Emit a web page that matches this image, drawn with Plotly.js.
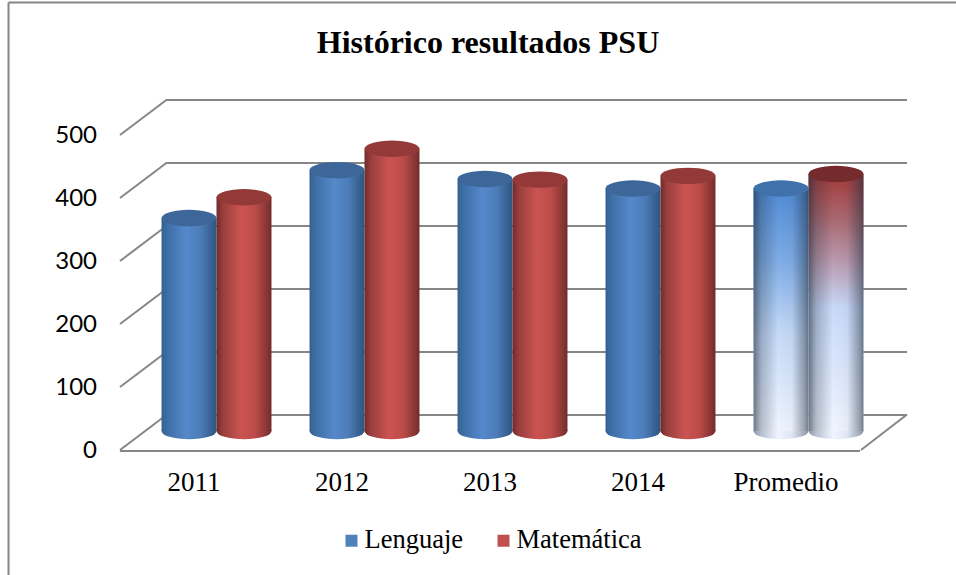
<!DOCTYPE html>
<html>
<head>
<meta charset="utf-8">
<script src="https://cdn.plot.ly/plotly-3.0.1.min.js"></script>
<style>
html,body{margin:0;padding:0;background:#fff}#chart{width:956px;height:575px}
.legend .legendsymbols{transform:translate(7px,3px)}
.legend .scrollbox{clip-path:none}
</style>
</head>
<body>
<div id="chart"></div>
<script>
const categories = ['2011','2012','2013','2014','Promedio'];
const lenguaje = [338,414,400,385,385];
const matematica = [371,448,399,405,408];
const yTicks = [0,100,200,300,400,500];
const chartTitle = 'Histórico resultados PSU';

const W = 956, H = 575;
const px = v => v / W;
const py = v => 1 - v / H;
const GREY = '#868686';
const SERIF = '"Liberation Serif", serif';

const barWidth = 0.3715, capHalf = 13;
function ellipse(i, lo, value, fill, layer) {
  return {type:'circle', xref:'x3', yref:'y3', layer, x0:i+lo, x1:i+lo+barWidth,
          y0:value-capHalf, y1:value+capHalf, fillcolor:fill, line:{width:0}};
}
const obliques = yTicks.map(v => {
  const d = v * 0.63;
  return {type:'line', xref:'paper', yref:'paper', layer:'below',
          x0:px(120), y0:py(450-d), x1:px(167), y1:py(414.5-d), line:{color:GREY,width:2}};
});
const frame = [
  {type:'line', xref:'paper', yref:'paper', layer:'below', x0:px(8.5), y0:py(2.5), x1:1, y1:py(2.5), line:{color:GREY,width:2}},
  {type:'line', xref:'paper', yref:'paper', layer:'below', x0:px(8.5), y0:py(2.5), x1:px(8.5), y1:0, line:{color:GREY,width:2}},
  {type:'line', xref:'paper', yref:'paper', layer:'below', x0:px(861), y0:py(450), x1:px(907), y1:py(414.5), line:{color:GREY,width:2}}
];
const baseShapes = frame.concat(obliques);
const nBase = baseShapes.length;
const bottomShapes = [];
categories.forEach((c,i) => {
  bottomShapes.push(ellipse(i,-barWidth,0,'#4f81bd','below'));
  bottomShapes.push(ellipse(i,0,0,'#c0504d','below'));
});
const capShapes = [];
categories.forEach((c,i) => {
  capShapes.push(ellipse(i,-barWidth,lenguaje[i],i===4?'#3f72aa':'#3c6798','above'));
});
categories.forEach((c,i) => {
  capShapes.push(ellipse(i,0,matematica[i],i===4?'#752b2b':'#933a39','above'));
});

const ghost = (xa,ya) => ({type:'scatter', mode:'none', x:[0], y:[0], xaxis:xa, yaxis:ya, showlegend:false, hoverinfo:'skip'});
const traces = [
  ghost('x','y'),
  ghost('x2','y2'),
  {type:'bar', name:'Lenguaje', x:categories, y:lenguaje, xaxis:'x3', yaxis:'y3', marker:{color:'#4f81bd',line:{width:0}}, hoverinfo:'y+name'},
  {type:'bar', name:'Matemática', x:categories, y:matematica, xaxis:'x3', yaxis:'y3', marker:{color:'#c0504d',line:{width:0}}, hoverinfo:'y+name'}
];

const under = 30, pad = 20;
const layout = {
  width:W, height:H, margin:{l:0,r:0,t:0,b:0}, autosize:false,
  paper_bgcolor:'#fff', plot_bgcolor:'rgba(0,0,0,0)',
  barmode:'group', bargap:0.257, bargroupgap:0,
  title:{text:'<b>'+chartTitle+'</b>', x:px(488), y:py(42), xanchor:'center', yanchor:'middle', font:{family:SERIF,size:32,color:'#000'}},
  // back wall
  xaxis:{domain:[px(167),px(907)], range:[0,1], visible:false, fixedrange:true},
  yaxis:{domain:[py(414.5+pad*0.63),py(99.5-pad*0.63)], range:[-pad,500+pad], tickvals:yTicks, showgrid:true, gridcolor:GREY, gridwidth:2,
         zeroline:false, showticklabels:false, ticks:'', showline:false, fixedrange:true},
  // front plane: labels and floor edge
  xaxis2:{domain:[px(120),px(860)], range:[-0.5,4.5], anchor:'y2', tickmode:'array', tickvals:categories.map((c,i)=>i), ticktext:categories,
          showline:true, linecolor:GREY, linewidth:2, showgrid:false, zeroline:false, ticks:'', ticklabelstandoff:7,
          tickfont:{family:SERIF,size:27,color:'#000'}, fixedrange:true},
  yaxis2:{domain:[py(450),py(135)], range:[0,500], anchor:'x2', tickvals:yTicks, showgrid:false, zeroline:false, showline:false, ticks:'',
          ticklabelstandoff:22, tickfont:{family:'Lato, sans-serif',size:24,color:'#000'}, fixedrange:true},
  // mid-depth plane where the cylinders stand
  xaxis3:{domain:[px(142.5),px(882.5)], anchor:'y3', type:'category', visible:false, fixedrange:true},
  yaxis3:{domain:[py(431+under*0.63),py(116)], range:[-under,500], anchor:'x3', visible:false, fixedrange:true},
  showlegend:true,
  legend:{orientation:'h', x:px(476.5), y:py(538), xanchor:'center', yanchor:'middle', font:{family:SERIF,size:26.5,color:'#000'},
          bgcolor:'rgba(0,0,0,0)', itemclick:false, itemdoubleclick:false, traceorder:'normal', entrywidth:107, entrywidthmode:'pixels'},
  shapes: baseShapes.concat(bottomShapes, capShapes)
};

function stop(o,c,a){const s=document.createElementNS('http://www.w3.org/2000/svg','stop');s.setAttribute('offset',o);s.setAttribute('stop-color',c);if(a!==undefined)s.setAttribute('stop-opacity',a);return s;}
function grad(defs,id,vertical,stops){
  const g=document.createElementNS('http://www.w3.org/2000/svg','linearGradient');
  g.setAttribute('id',id);g.setAttribute('x1',0);g.setAttribute('y1',0);
  g.setAttribute('x2',vertical?0:1);g.setAttribute('y2',vertical?1:0);
  stops.forEach(s=>g.appendChild(stop(...s)));defs.appendChild(g);
}

Plotly.newPlot('chart',traces,layout,{displayModeBar:false}).then(gd=>{
  const svg=gd.querySelector('svg.main-svg');
  const defs=svg.querySelector('defs');
  grad(defs,'gBlue',false,[[0,'#33618f'],[0.12,'#3f6fa6'],[0.45,'#5589cb'],[0.7,'#4d7db9'],[0.92,'#365f90'],[1,'#2f5580']]);
  grad(defs,'gRed',false,[[0,'#6f2c2b'],[0.12,'#9a3f3d'],[0.45,'#cb5451'],[0.7,'#bc4c49'],[0.92,'#873634'],[1,'#6e2b2a']]);
  grad(defs,'gPBlue',true,[[0,'#4f8ad4'],[0.3,'#7fadE6'],[0.6,'#c6daf8'],[1,'#f0f5ff']]);
  grad(defs,'gPRed',true,[[0,'#a33a3a'],[0.18,'#ab6a72'],[0.34,'#bb9bb0'],[0.52,'#c9dafa'],[1,'#f0f5ff']]);
  grad(defs,'gShade',false,[[0,'#1e2c3c',0.62],[0.14,'#1e2c3c',0.28],[0.45,'#1e2c3c',0],[0.7,'#1e2c3c',0.04],[0.93,'#1e2c3c',0.42],[1,'#1e2c3c',0.6]]);
  grad(defs,'gPBottom',false,[[0,'#8d97a8'],[0.14,'#b6c0d2'],[0.45,'#f0f5ff'],[0.7,'#dfe6f2'],[0.93,'#a0a9b8'],[1,'#87909f']]);

  const traceGroups=svg.querySelectorAll('.barlayer .trace.bars');
  traceGroups.forEach((t,ti)=>{
    t.querySelectorAll('.point path').forEach((p,i)=>{
      if(i===4){
        p.style.fill=ti===0?'url(#gPBlue)':'url(#gPRed)';
        const c=p.cloneNode(true);c.style.fill='url(#gShade)';c.style.stroke='none';
        p.parentNode.appendChild(c);
      }else{
        p.style.fill=ti===0?'url(#gBlue)':'url(#gRed)';
      }
    });
  });

  svg.querySelectorAll('path[data-index]').forEach(p=>{
    if(!p.closest('.shapelayer'))return;
    const idx=+p.getAttribute('data-index')-nBase;
    if(idx<0)return;
    if(idx<bottomShapes.length){
      const i=Math.floor(idx/2);
      p.style.fill=i===4?'url(#gPBottom)':(idx%2===0?'url(#gBlue)':'url(#gRed)');
    }else{
      const b=p.getBBox();
      p.removeAttribute('clip-path');
      p.setAttribute('transform','rotate(-4 '+(b.x+b.width/2)+' '+(b.y+b.height/2)+')');
    }
  });
});
</script>
</body>
</html>
